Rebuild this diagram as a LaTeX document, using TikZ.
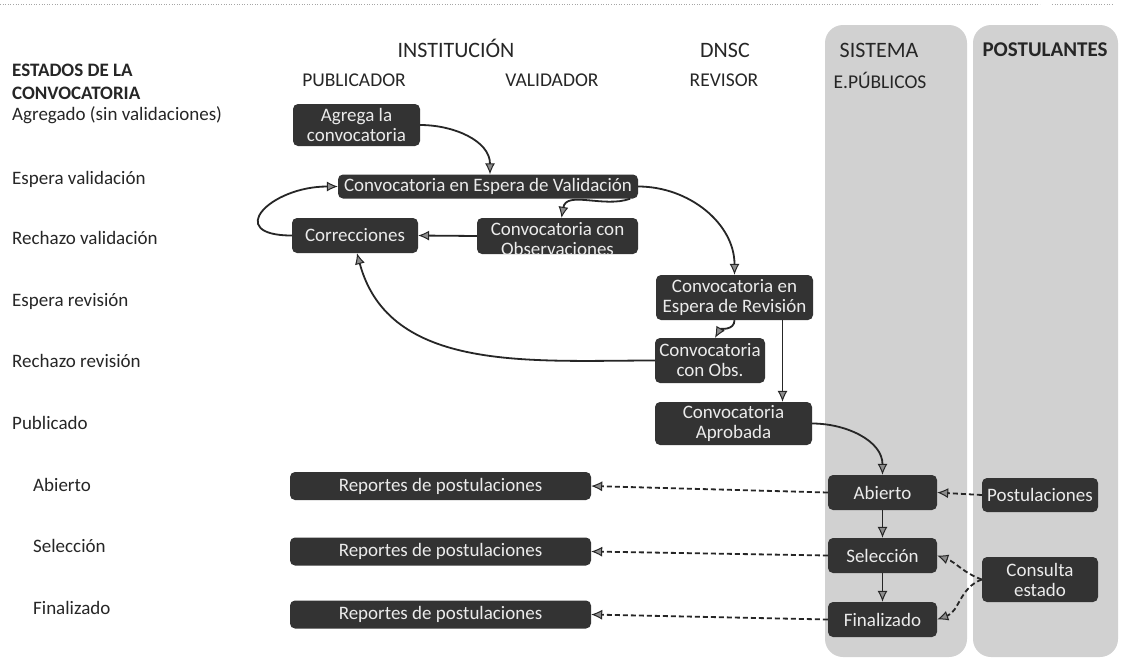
\documentclass[tikz,border=0pt]{standalone}
\usepackage{fontspec}
\setmainfont{Carlito}
\usetikzlibrary{arrows.meta}
\begin{document}
\begin{tikzpicture}[x=1pt,y=1pt,
 bx/.style={rounded corners=5pt, fill=black!80, text=white!92!black, font=\fontsize{19}{20}\selectfont, inner sep=0pt, align=center},
 lbl/.style={anchor=west, font=\fontsize{19}{20}\selectfont, inner sep=0pt, text height=13pt, text depth=4pt, text=black!85},
 hd/.style={font=\fontsize{22}{24}\selectfont, inner sep=0pt, text=black!85},
 subhd/.style={font=\fontsize{19.5}{21}\selectfont, inner sep=0pt, text=black!85},
 lane/.style={rounded corners=18pt, fill=black!18},
 arr/.style={line width=1.8pt, draw=black!85, -{Latex[length=11pt,width=10pt,fill=black!45,line width=1pt]}},
 darr/.style={arr, dash pattern=on 5pt off 3pt}]

\useasboundingbox (0,0) rectangle (1125,-662);
\fill[white] (0,0) rectangle (1125,-662);
\draw[black!35, dotted, line width=0.6pt] (0,-4) -- (1040,-4);
\draw[black!35, dotted, line width=0.6pt] (1052,-4) -- (1114,-4);

% lanes
\fill[lane] (825,-25) rectangle (967,-657);
\fill[lane] (973,-25) rectangle (1118,-657);

% headers
\node[hd] (hinst) at (456,-48) {INSTITUCIÓN};
\node[subhd] (hpub) at (354,-80) {PUBLICADOR};
\node[subhd] (hval) at (552,-80) {VALIDADOR};
\node[hd] (hdnsc) at (725,-50) {DNSC};
\node[subhd] (hrev) at (724,-80) {REVISOR};
\node[hd] (hsis) at (879,-50) {SISTEMA};
\node[subhd] (hep) at (880,-80) {E.PÚBLICOS};
\node[hd, font=\bfseries\fontsize{21}{24}\selectfont] (hpos) at (1045,-50) {POSTULANTES};

% left labels
\node[lbl, font=\bfseries\fontsize{19}{20}\selectfont] (l0a) at (12,-72) {ESTADOS DE LA};
\node[lbl, font=\bfseries\fontsize{19}{20}\selectfont] (l0b) at (12,-95) {CONVOCATORIA};
\node[lbl] (l1) at (12,-116) {Agregado (sin validaciones)};
\node[lbl] (l2) at (12,-180) {Espera validación};
\node[lbl] (l3) at (12,-240) {Rechazo validación};
\node[lbl] (l4) at (12,-302) {Espera revisión};
\node[lbl] (l5) at (12,-363) {Rechazo revisión};
\node[lbl] (l6) at (12,-425) {Publicado};
\node[lbl] (l7) at (33,-487) {Abierto};
\node[lbl] (l8) at (33,-548) {Selección};
\node[lbl] (l9) at (33,-610) {Finalizado};

% boxes
\node[bx, minimum width=127pt, minimum height=42pt] (agrega) at (356.5,-125) {Agrega la\\convocatoria};
\node[bx, minimum width=300pt, minimum height=24pt] (espval) at (488,-186.5) {Convocatoria en Espera de Validación};
\node[bx, minimum width=126pt, minimum height=35pt] (correc) at (355,-235.5) {Correcciones};
\node[bx, minimum width=161pt, minimum height=36pt] (conobs) at (557.5,-236) {};
\begin{scope}
\clip[rounded corners=5pt] (conobs.south west) rectangle (conobs.north east);
\node[text=white!92!black, font=\fontsize{19}{20}\selectfont, inner sep=0pt, align=center] (conobstxt) at ([yshift=-3pt]conobs.center) {Convocatoria con\\Observaciones};
\end{scope}
\node[bx, minimum width=157pt, minimum height=45pt] (esprev) at (734.5,-297.5) {Convocatoria en\\Espera de Revisión};
\node[bx, minimum width=110pt, minimum height=45pt] (conobs2) at (710,-360.5) {Convocatoria\\con Obs.};
\node[bx, minimum width=157pt, minimum height=43pt] (aprob) at (733.5,-423.5) {Convocatoria\\Aprobada};
\node[bx, minimum width=301pt, minimum height=28pt] (rep1) at (440.5,-486) {Reportes de postulaciones};
\node[bx, minimum width=301pt, minimum height=28pt] (rep2) at (440.5,-551.5) {Reportes de postulaciones};
\node[bx, minimum width=301pt, minimum height=28pt] (rep3) at (440.5,-614.5) {Reportes de postulaciones};
\node[bx, minimum width=109pt, minimum height=35pt] (abierto) at (882.5,-492.5) {Abierto};
\node[bx, minimum width=109pt, minimum height=35pt] (selec) at (882.5,-555.5) {Selección};
\node[bx, minimum width=109pt, minimum height=35pt] (final) at (882.5,-619.5) {Finalizado};
\node[bx, minimum width=116pt, minimum height=34pt] (postul) at (1040,-495) {Postulaciones};
\node[bx, minimum width=116pt, minimum height=45pt] (consulta) at (1040,-579.5) {Consulta\\estado};

% connectors
\draw[arr] (agrega.east) to[out=0,in=90] ([xshift=2pt]espval.north);
\draw[arr] (espval.east) to[out=0,in=90] (esprev.north);
\draw[arr] ([xshift=-8pt]espval.south east) to[out=200,in=80] ([xshift=4pt]conobs.north);
\draw[arr] (conobs.west) -- (correc.east);
\draw[arr] (correc.west) to[out=180,in=180,looseness=2.6] (espval.west);
\draw[arr] (esprev.south) to[out=-90,in=60] ([xshift=5pt]conobs2.north);
\draw[arr] ([xshift=48pt]esprev.south) -- ([xshift=48pt]esprev.south |- aprob.north);
\draw[arr] (conobs2.west) to[out=180,in=-75] ([xshift=2pt]correc.south);
\draw[arr] (aprob.east) to[out=0,in=90] (abierto.north);
\draw[arr] (abierto.south) -- (selec.north);
\draw[arr] (selec.south) -- (final.north);
\draw[darr] (abierto.west) -- (rep1.east);
\draw[darr] (selec.west) -- (rep2.east);
\draw[darr] (final.west) -- (rep3.east);
\draw[darr] (postul.west) -- (abierto.east);
\draw[darr] (consulta.west) to[out=160,in=-20] (selec.east);
\draw[darr] (consulta.west) to[out=200,in=20] (final.east);
\end{tikzpicture}
\end{document}
